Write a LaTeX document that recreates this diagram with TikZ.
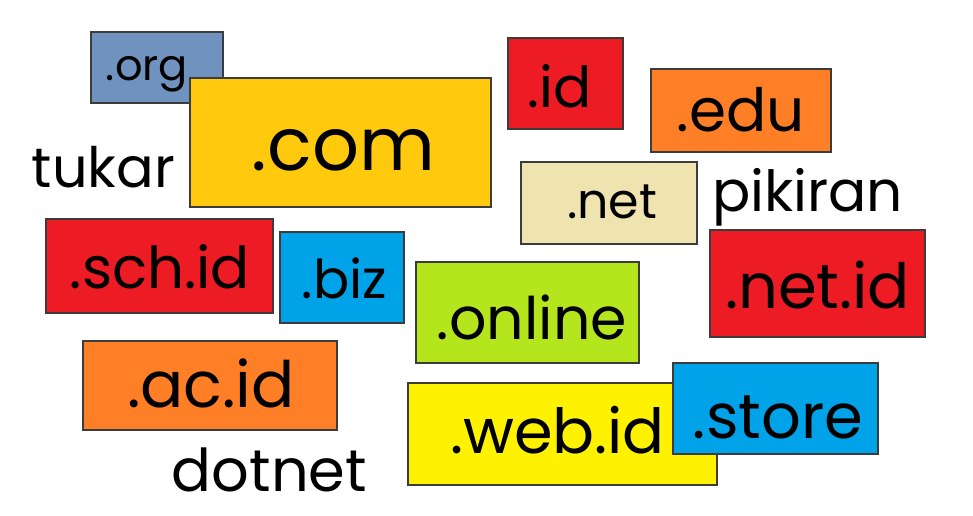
\documentclass[tikz,border=0pt]{standalone}
\usepackage{fontspec}
\setmainfont{Poppins}
\usepackage{graphicx}
\definecolor{cRed}{HTML}{ED1C24}
\definecolor{cOrange}{HTML}{FF7F27}
\definecolor{cYellow}{HTML}{FFF200}
\definecolor{cGold}{HTML}{FFC90E}
\definecolor{cBlue}{HTML}{00A2E8}
\definecolor{cLime}{HTML}{B5E61D}
\definecolor{cCream}{HTML}{EFE4B0}
\definecolor{cSteel}{HTML}{7092BE}
\definecolor{cEdge}{HTML}{3C3C3C}
\tikzset{
  tldbox/.style={draw=cEdge, line width=1.5pt, inner sep=0pt, rectangle},
  word/.style={inner sep=0pt, anchor=base, text=black},
}
\newcommand{\fitw}[2]{\resizebox{#1pt}{!}{#2}}
\begin{document}
\begin{tikzpicture}[x=1pt,y=-1pt]
\useasboundingbox[fill=white] (0,0) rectangle (973,515);
% .org
\node[tldbox, fill=cSteel, minimum width=132pt, minimum height=71pt] (org) at (157,67.5) {};
\node[word] (orgT) at (147,80) {\fitw{82}{.org}};
% .com
\node[tldbox, fill=cGold, minimum width=301pt, minimum height=129pt] (com) at (340.5,142.5) {};
\node[word] (comT) at (343.5,170) {\fitw{183}{.com}};
% tukar
\node[word] (tukar) at (103.5,187) {\fitw{143}{tukar}};
% .sch.id
\node[tldbox, fill=cRed, minimum width=227pt, minimum height=94pt] (sch) at (159.5,266) {};
\node[word] (schT) at (160,288) {\fitw{180}{.sch.id}};
% .biz
\node[tldbox, fill=cBlue, minimum width=124pt, minimum height=91pt] (biz) at (342,277.5) {};
\node[word] (bizT) at (344.5,298) {\fitw{85}{.biz}};
% .online
\node[tldbox, fill=cLime, minimum width=223pt, minimum height=101pt] (online) at (527.5,312.5) {};
\node[word] (onlineT) at (532,339) {\fitw{190}{.online}};
% .ac.id
\node[tldbox, fill=cOrange, minimum width=254pt, minimum height=89pt] (ac) at (210,385.5) {};
\node[word] (acT) at (211,407) {\fitw{168}{.ac.id}};
% dotnet
\node[word] (dotnet) at (269.5,491) {\fitw{195}{dotnet}};
% .web.id
\node[tldbox, fill=cYellow, minimum width=309pt, minimum height=102pt] (web) at (562.5,434) {};
\node[word] (webT) at (557.5,453) {\fitw{215}{.web.id}};
% .store
\node[tldbox, fill=cBlue, minimum width=205pt, minimum height=91pt] (store) at (775.5,408.5) {};
\node[word] (storeT) at (778,438) {\fitw{170}{.store}};
% .net.id
\node[tldbox, fill=cRed, minimum width=215pt, minimum height=107pt] (netid) at (817.5,283.5) {};
\node[word] (netidT) at (817.5,308) {\fitw{185}{.net.id}};
% .id
\node[tldbox, fill=cRed, minimum width=115pt, minimum height=91pt] (id) at (565.5,83.5) {};
\node[word] (idT) at (560,107) {\fitw{64}{.id}};
% .edu
\node[tldbox, fill=cOrange, minimum width=180pt, minimum height=83pt] (edu) at (741,110.5) {};
\node[word] (eduT) at (741,131) {\fitw{128}{.edu}};
% .net
\node[tldbox, fill=cCream, minimum width=176pt, minimum height=82pt] (net) at (609,203) {};
\node[word] (netT) at (612,218) {\fitw{90}{.net}};
% pikiran
\node[word] (pikiran) at (807.5,211) {\fitw{191}{pikiran}};
\end{tikzpicture}
\end{document}
